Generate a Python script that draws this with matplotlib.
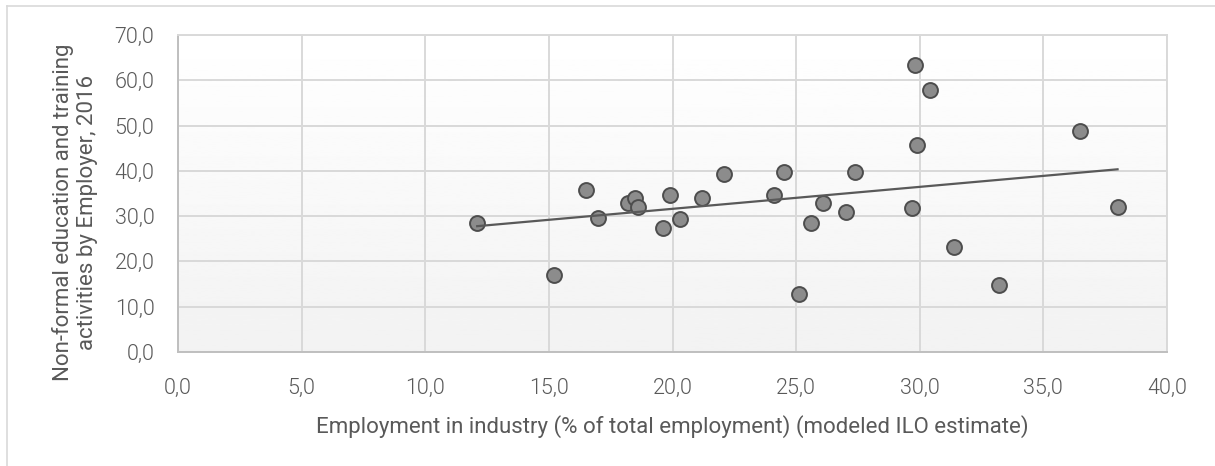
import numpy as np
import matplotlib
matplotlib.use("Agg")
import matplotlib.pyplot as plt
from matplotlib.ticker import FuncFormatter
from matplotlib.lines import Line2D

# employment in industry (% of total employment) per country
industry = [12.1, 15.2, 16.5, 17.0, 18.2, 18.5, 18.6, 19.6, 19.9, 20.3,
            21.2, 22.1, 24.1, 24.5, 25.1, 25.6, 26.1, 27.0, 27.4, 29.7,
            29.8, 29.9, 30.4, 31.4, 33.2, 36.5, 38.0]
# non-formal education and training by employer, 2016
training = [28.4, 17.1, 35.7, 29.5, 32.9, 33.9, 32.0, 27.3, 34.6, 29.3,
            33.9, 39.2, 34.7, 39.7, 12.7, 28.5, 32.9, 30.9, 39.7, 31.9,
            63.4, 45.6, 57.9, 23.2, 14.9, 48.9, 32.1]

x_ticks = [0, 5, 10, 15, 20, 25, 30, 35, 40]
y_ticks = [0, 10, 20, 30, 40, 50, 60, 70]

text_col = "#595959"
grid_col = "#d9d9d9"

plt.rcParams["font.family"] = ["Roboto", "DejaVu Sans"]
plt.rcParams["font.weight"] = 300

fig = plt.figure(figsize=(12.15, 4.66), dpi=100)
ax = fig.add_axes([178 / 1215, 1 - 352 / 466, (1167 - 178) / 1215, (352 - 35) / 466])

# outer chart border
fig.add_artist(Line2D([7 / 1215, 1], [1 - 6 / 466, 1 - 6 / 466], transform=fig.transFigure,
                      color="#d9d9d9", lw=1.2))
fig.add_artist(Line2D([7 / 1215, 7 / 1215], [0, 1 - 6 / 466], transform=fig.transFigure,
                      color="#d9d9d9", lw=1.2))

# gradient plot background
grad = np.linspace(1.0, 0.949, 256).reshape(-1, 1)
ax.imshow(grad, cmap="gray", vmin=0, vmax=1, aspect="auto",
          extent=[0, 1, 0, 1], transform=ax.transAxes, zorder=0)

ax.scatter(industry, training, s=115, color="#8c8c8c", edgecolor="#4d4d4d",
           linewidth=1.4, zorder=3)

# linear trendline
k, b = np.polyfit(industry, training, 1)
xs = np.array([min(industry), max(industry)])
ax.plot(xs, k * xs + b, color="#595959", lw=1.6, zorder=4)

ax.set_xlim(0, 40)
ax.set_ylim(0, 70)
ax.set_xticks(x_ticks)
ax.set_yticks(y_ticks)
fmt = FuncFormatter(lambda v, p: f"{v:.1f}".replace(".", ","))
ax.xaxis.set_major_formatter(fmt)
ax.yaxis.set_major_formatter(fmt)
ax.grid(True, color=grid_col, lw=1.4, zorder=1)
ax.set_axisbelow(True)
for s in ax.spines.values():
    s.set_color(grid_col)
    s.set_linewidth(1.4)
ax.spines["bottom"].set_color("#bfbfbf")
ax.spines["left"].set_color("#bfbfbf")
ax.tick_params(length=0, labelsize=15.5, labelcolor=text_col)
ax.tick_params(axis="x", pad=19)
ax.tick_params(axis="y", pad=17)

ax.set_xlabel("Employment in industry (% of total employment) (modeled ILO estimate)",
              fontsize=16, color=text_col, labelpad=11)
ax.set_ylabel("Non-formal education and training\nactivities by Employer, 2016",
              fontsize=16, color=text_col, linespacing=1.15)
ax.yaxis.set_label_coords(-0.081, 0.44)

fig.savefig("out.png", dpi=100)
